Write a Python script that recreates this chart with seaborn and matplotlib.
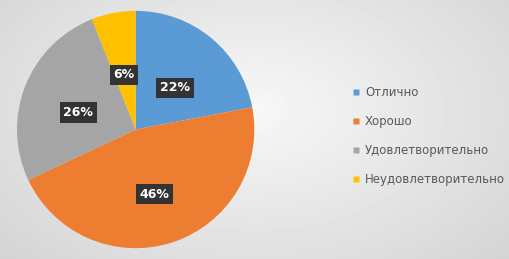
import matplotlib
matplotlib.use("Agg")
import matplotlib.pyplot as plt
import seaborn as sns
import numpy as np
from matplotlib.lines import Line2D

# Data
categories = ["Отлично", "Хорошо", "Удовлетворительно", "Неудовлетворительно"]
shares = [22, 46, 26, 6]
colors = ["#5B9BD5", "#ED7D31", "#A5A5A5", "#FFC000"]

sns.set_theme(style="white")
plt.rcParams['font.family'] = ['DejaVu Sans']

fig = plt.figure(figsize=(5.1, 2.59), dpi=100)

# soft radial grey background
bg = fig.add_axes([0, 0, 1, 1])
yy, xx = np.mgrid[0:259, 0:510]
r = np.sqrt(((xx - 255) / 300.0) ** 2 + ((yy - 110) / 190.0) ** 2)
shade = 0.97 - 0.12 * np.clip(r, 0, 1.4)
bg.imshow(shade, cmap="gray", vmin=0, vmax=1, aspect="auto", extent=[0, 1, 0, 1])
bg.axis("off")

ax = fig.add_axes([0.031, 0.035, 0.47, 0.93])
wedges, texts, autotexts = ax.pie(
    shares, colors=colors, startangle=90, counterclock=False,
    autopct=lambda p: f"{p:.0f}%", pctdistance=0.52,
    wedgeprops=dict(linewidth=0),
)
for t in autotexts:
    x, y = t.get_position()
    t.set_position((x, y - 0.05))
    t.set_color("white")
    t.set_fontsize(9)
    t.set_fontweight("bold")
    t.set_bbox(dict(boxstyle="square,pad=0.3", facecolor="#333333", edgecolor="none"))
ax.set_xlim(-1.01, 1.01)
ax.set_ylim(-1.01, 1.01)
ax.set_aspect("equal")

handles = [Line2D([], [], marker="s", linestyle="none", markersize=5,
                  markerfacecolor=c, markeredgecolor="none") for c in colors]
leg = fig.legend(handles, categories, loc="upper left", bbox_to_anchor=(0.68, 0.69),
                 frameon=False, fontsize=8.5, handlelength=0.6, handletextpad=0.45,
                 labelspacing=1.35, borderpad=0)
for t in leg.get_texts():
    t.set_color("#595959")

fig.savefig("out.png", dpi=100)
